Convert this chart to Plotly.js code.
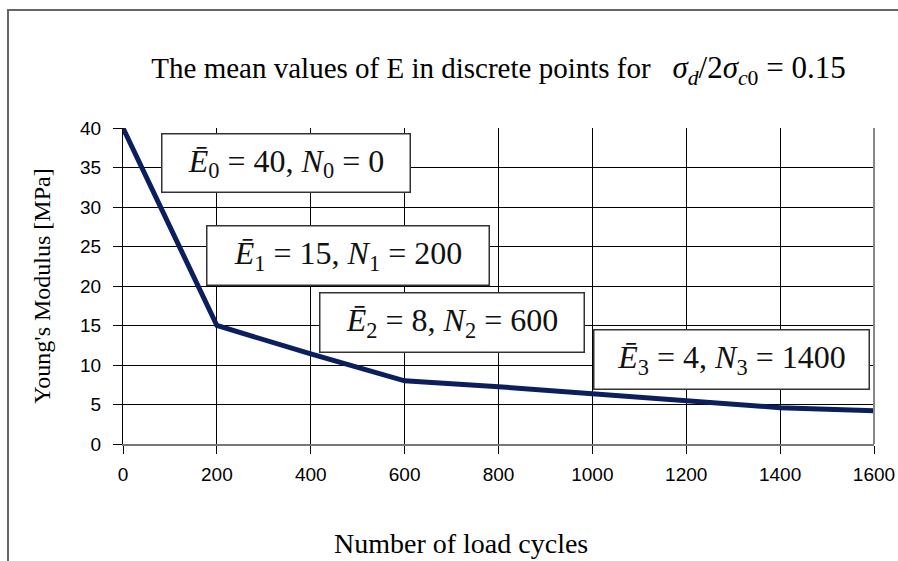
<!DOCTYPE html>
<html>
<head>
<meta charset="utf-8">
<script src="https://cdn.plot.ly/plotly-3.0.1.min.js"></script>
<style>
  html, body { margin: 0; padding: 0; background: #fff; }
  #chart { width: 898px; height: 561px; position: relative; }
  #frame { position: absolute; left: 7px; top: 9px; width: 1000px; height: 1000px;
           border-left: 2px solid #666; border-top: 2px solid #666; pointer-events: none; }
</style>
</head>
<body>
<div id="chart"></div>
<div id="frame"></div>
<script>
// Data
const cycles = [0, 200, 400, 600, 800, 1000, 1200, 1400, 1600];
const modulus = [40, 15, 11.4, 8, 7.25, 6.4, 5.5, 4.6, 4.2];
const xTicks = [0, 200, 400, 600, 800, 1000, 1200, 1400, 1600];
const yTicks = [0, 5, 10, 15, 20, 25, 30, 35, 40];

const titleText = 'The mean values of E in discrete points for &nbsp;&nbsp;<span style="font-size:31px"><i>σ</i><sub><i>d</i></sub>/2<i>σ</i><sub><i>c</i>0</sub> = 0.15</span>';
const xTitle = 'Number of load cycles';
const yTitle = "Young's Modulus [MPa]";
const boxTexts = [
  '<i>E\u0304</i><sub>0</sub> = 40, <i>N</i><sub>0</sub> = 0',
  '<i>E\u0304</i><sub>1</sub> = 15, <i>N</i><sub>1</sub> = 200',
  '<i>E\u0304</i><sub>2</sub> = 8, <i>N</i><sub>2</sub> = 600',
  '<i>E\u0304</i><sub>3</sub> = 4, <i>N</i><sub>3</sub> = 1400'
];

const serif = 'Liberation Serif, Times New Roman, serif';
const sans = 'Liberation Sans, Arial, sans-serif';

// box placement (paper coords) and sizes
const boxPos = [
  {x: 0.2164, y: 0.888, w: 247, h: 57},
  {x: 0.299,  y: 0.595, w: 281, h: 58},
  {x: 0.4387, y: 0.383, w: 263, h: 58},
  {x: 0.8096, y: 0.266, w: 274, h: 58}
];

const annotations = boxTexts.map((t, i) => ({
  text: t, xref: 'paper', yref: 'paper', x: boxPos[i].x, y: boxPos[i].y,
  xanchor: 'center', yanchor: 'middle', showarrow: false,
  width: boxPos[i].w, height: boxPos[i].h, align: 'center', valign: 'middle',
  bgcolor: '#fff', bordercolor: '#333', borderwidth: 1.5, borderpad: 0,
  font: {family: serif, size: 32, color: '#111'}
}));

annotations.push({
  text: xTitle, xref: 'paper', yref: 'paper', x: (461 - 123) / 751, y: -(543 - 444) / 316,
  xanchor: 'center', yanchor: 'middle', showarrow: false,
  font: {family: serif, size: 28, color: '#000'}
});

const trace = {
  x: cycles, y: modulus, type: 'scatter', mode: 'lines',
  line: {color: '#0b1f5e', width: 5}, hoverinfo: 'x+y', showlegend: false
};

const layout = {
  width: 898, height: 561,
  margin: {l: 123, r: 24, t: 128, b: 117},
  paper_bgcolor: '#fff', plot_bgcolor: '#fff',
  title: {
    text: titleText, xref: 'paper', x: 0.5, xanchor: 'center',
    yref: 'container', y: 1 - 68 / 561, yanchor: 'middle',
    font: {family: serif, size: 29, color: '#000'}
  },
  xaxis: {
    range: [0, 1600], tickvals: xTicks, ticktext: xTicks.map(String),
    showgrid: true, gridcolor: '#000', gridwidth: 1,
    showline: true, linecolor: '#777', linewidth: 2,
    ticks: 'outside', ticklen: 8, tickcolor: '#000', tickwidth: 1,
    ticklabelstandoff: 4,
    tickfont: {family: sans, size: 19, color: '#000'},
    zeroline: false, fixedrange: true
  },
  yaxis: {
    range: [0, 40], tickvals: yTicks, ticktext: yTicks.map(String),
    showgrid: true, gridcolor: '#000', gridwidth: 1,
    showline: true, linecolor: '#000', linewidth: 1,
    ticks: 'outside', ticklen: 9, tickcolor: '#000', tickwidth: 1,
    ticklabelstandoff: 8,
    tickfont: {family: sans, size: 19, color: '#000'},
    zeroline: false, fixedrange: true,
    title: {text: yTitle, font: {family: serif, size: 24, color: '#000'}, standoff: 22}
  },
  shapes: [
    {type: 'line', xref: 'paper', yref: 'paper', x0: 1, x1: 1, y0: 0, y1: 1,
     line: {color: '#888', width: 2}}
  ],
  annotations: annotations
};

Plotly.newPlot('chart', [trace], layout, {displayModeBar: false, staticPlot: true});
</script>
</body>
</html>
